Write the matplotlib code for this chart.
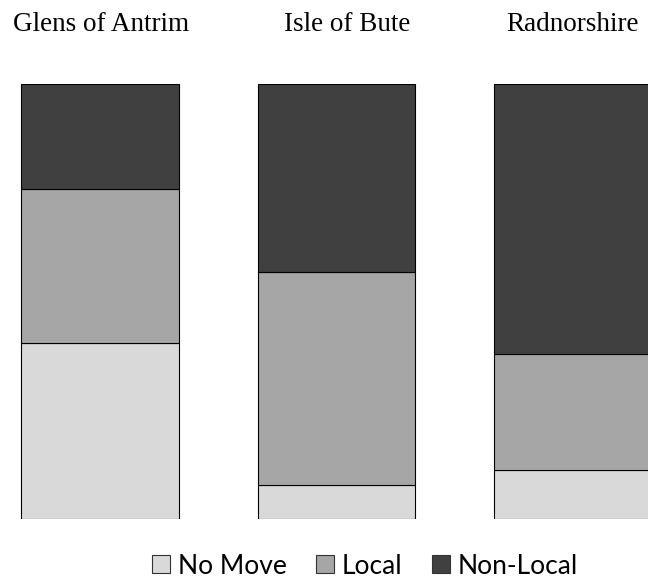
import matplotlib.pyplot as plt
from matplotlib.patches import Patch
from matplotlib.transforms import blended_transform_factory

# percent shares
regions = ["Glens of Antrim", "Isle of Bute", "Radnorshire"]
series = ["No Move", "Local", "Non-Local"]
no_move = [40.4, 7.7, 11.3]
local = [35.4, 49.2, 26.5]
non_local = [24.2, 43.1, 62.2]
colors = ["#d9d9d9", "#a6a6a6", "#404040"]

# small nudges of the region names, as in the original
title_dx = [0.005, 0.045, 0.0]

fig = plt.figure(figsize=(6.48, 5.78), dpi=100)
ax = fig.add_axes([0.0, 0.1026, 1.0, 0.7516])

x = list(range(len(regions)))
bottom = [0.0] * len(regions)
for vals, col in zip([no_move, local, non_local], colors):
    ax.bar(x, vals, width=0.667, bottom=bottom, color=col,
           edgecolor="black", linewidth=0.8)
    bottom = [b + v for b, v in zip(bottom, vals)]

ax.set_xlim(-0.4243, 2.3197)
ax.set_ylim(0, 100)
ax.axis("off")

trans = blended_transform_factory(ax.transData, fig.transFigure)
for i, name in enumerate(regions):
    ax.text(i + title_dx[i], 0.946, name, transform=trans, ha="center",
            va="baseline", fontsize=19.5, family="Liberation Serif",
            clip_on=False)

handles = [Patch(facecolor=c, edgecolor="#333333", linewidth=0.8) for c in colors]
fig.legend(handles, series, loc="center", bbox_to_anchor=(365 / 648, 1 - 566 / 578),
           ncol=3, frameon=False, prop={"family": "Lato", "size": 19},
           handlelength=0.68, handleheight=0.68, handletextpad=0.3,
           columnspacing=1.1, borderpad=0)

fig.savefig("out.png", dpi=100)
